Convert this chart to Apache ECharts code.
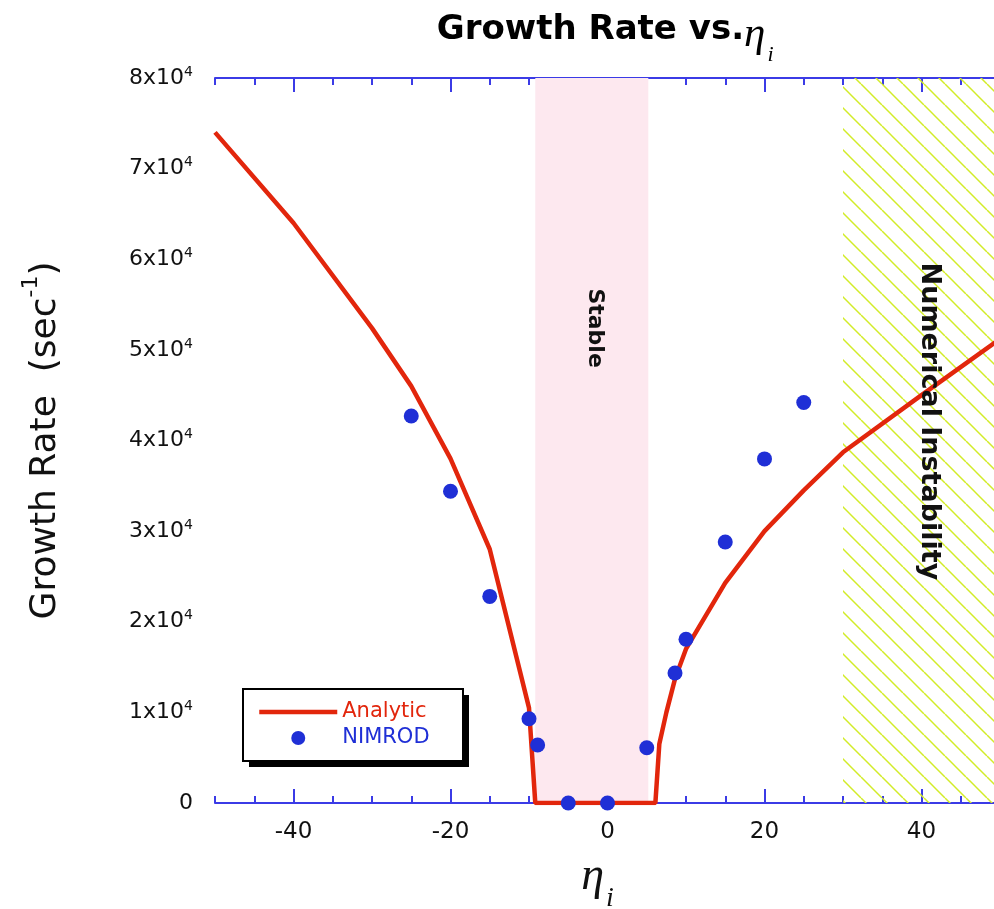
<!DOCTYPE html>
<html><head><meta charset="utf-8">
<script src="https://cdn.jsdelivr.net/npm/echarts@6/dist/echarts.min.js"></script>
<style>html,body{margin:0;padding:0;background:#fff}#c{width:994px;height:909px}</style>
</head><body><div id="c"></div>
<script>
// ---- data ----
const analyticX = [-50, -40, -30, -25, -20, -15, -10, -9.2, 6.1, 6.6, 7.5, 8.6, 10, 15, 20, 25, 30, 40, 50];
const analyticY = [74000, 64000, 52400, 46000, 38000, 28000, 10500, 0, 0, 6500, 10000, 13700, 17000, 24300, 30000, 34500, 38700, 45000, 51200];
const nimrodX = [-25, -20, -15, -10, -8.9, -5, 0, 5, 8.6, 10, 15, 20, 25];
const nimrodY = [42700, 34400, 22800, 9300, 6400, 0, 0, 6100, 14350, 18070, 28800, 37970, 44200];
const xMajorTicks = [-40, -20, 0, 20, 40];
const stableBand = [-9.2, 5.2];
const unstableBand = [30, 50];
const stableLabelPos = [-1.6, 52400];
const unstableLabelPos = [41, 42100];
const titleCenterX = -0.3;

const RED = '#e2260c', BLUE = '#1f2fd6', AXIS = '#3b3be6';
const SANS = 'DejaVu Sans', SERIF = 'Liberation Serif';

function hatch() {
  const s = 21, c = document.createElement('canvas');
  c.width = s; c.height = s;
  const g = c.getContext('2d');
  g.strokeStyle = '#d2ec28'; g.lineWidth = 1.5;
  for (const k of [-s, 0, s]) { g.beginPath(); g.moveTo(k, 0); g.lineTo(k + s, s); g.stroke(); }
  return c;
}

const chart = echarts.init(document.getElementById('c'), null, {renderer: 'canvas'});
const axisLine = {show: true, lineStyle: {color: AXIS, width: 2}};
function xAx(pos, major, labels) {
  const a = {
    type: 'value', position: pos, min: -50, max: 50, gridIndex: 0,
    splitLine: {show: false},
    axisLine: major ? {show: false} : axisLine,
    axisTick: {show: true, inside: true, length: major ? 14 : 7, lineStyle: {color: AXIS, width: 2}},
    axisLabel: {show: false}
  };
  if (major) { a.axisTick.customValues = xMajorTicks; }
  else { a.interval = 5; }
  if (labels) {
    a.axisLabel = {show: true, customValues: xMajorTicks, margin: 18, color: '#111', fontFamily: SANS, fontSize: 23};
    a.name = '{e|η}{s|i}';
    a.nameLocation = 'middle';
    a.nameGap = 51;
    a.nameTextStyle = {padding: [0, 20, 0, 0], rich: {
      e: {fontFamily: SERIF, fontStyle: 'italic', fontSize: 46, lineHeight: 46, verticalAlign: 'top', color: '#111'},
      s: {fontFamily: SERIF, fontStyle: 'italic', fontSize: 28, lineHeight: 28, verticalAlign: 'top', padding: [31, 0, 0, 2], color: '#111'}
    }};
  }
  return a;
}
function yAx(pos, labels) {
  const a = {
    type: 'value', position: pos, min: 0, max: 80000, interval: 10000, gridIndex: 0,
    splitLine: {show: false},
    axisLine: axisLine,
    axisTick: {show: true, inside: true, length: 14, lineStyle: {color: AXIS, width: 2}},
    minorTick: {show: true, splitNumber: 5, length: 7, lineStyle: {color: AXIS, width: 2}},
    minorSplitLine: {show: false},
    axisLabel: {show: false}
  };
  if (labels) {
    a.axisLabel = {show: true, margin: 22, showMaxLabel: true, showMinLabel: true,
      formatter: v => v === 0 ? '{b|0}' : '{b|' + (v / 10000) + 'x10}{s|4}',
      rich: {
        b: {fontFamily: SANS, fontSize: 22, lineHeight: 26, color: '#111'},
        s: {fontFamily: SANS, fontSize: 14, lineHeight: 14, verticalAlign: 'top', color: '#111'}
      }};
    a.name = '{a|Growth Rate  (sec}{s|-1}{a|)}';
    a.nameLocation = 'middle';
    a.nameGap = 143;
    a.nameTextStyle = {rich: {
      a: {fontFamily: SANS, fontSize: 36, lineHeight: 52, color: '#111'},
      s: {fontFamily: SANS, fontSize: 22, lineHeight: 16, verticalAlign: 'top', color: '#111'}
    }};
  }
  return a;
}

const option = {
  backgroundColor: '#fff',
  animation: false,
  grid: {left: 215, right: -6, top: 78, bottom: 106, containLabel: false, outerBoundsMode: 'none'},
  legend: {
    orient: 'vertical', left: 243, top: 689, padding: [11, 12, 9, 14], z: 20,
    itemWidth: 78, itemHeight: 14, itemGap: 2,
    textStyle: {fontFamily: SANS, fontSize: 21, lineHeight: 24},
    data: [
      {name: 'Analytic', textStyle: {color: RED},
       itemStyle: {color: 'rgba(0,0,0,0)', borderWidth: 0, opacity: 0},
       lineStyle: {color: RED, width: 4.5}},
      {name: 'NIMROD', textStyle: {color: BLUE}}
    ]
  },
  xAxis: [xAx('bottom', false, true), xAx('bottom', true, false), xAx('top', false, false), xAx('top', true, false)],
  yAxis: [yAx('left', true), yAx('right', false)],
  series: [
    {
      name: 'Analytic', type: 'line', xAxisIndex: 0, yAxisIndex: 0,
      data: analyticX.map((x, i) => [x, analyticY[i]]),
      symbol: 'none', lineStyle: {color: RED, width: 4.5}, itemStyle: {color: RED}, z: 3,
      markArea: {
        silent: true, label: {show: false}, itemStyle: {opacity: 1},
        data: [
          [{xAxis: stableBand[0], itemStyle: {color: '#fde8ef', opacity: 1}}, {xAxis: stableBand[1]}],
          [{xAxis: unstableBand[0], itemStyle: {color: {image: hatch(), repeat: 'repeat'}, opacity: 1}}, {xAxis: unstableBand[1]}]
        ]
      }
    },
    {
      name: 'NIMROD', type: 'scatter', xAxisIndex: 0, yAxisIndex: 0,
      data: nimrodX.map((x, i) => [x, nimrodY[i]]),
      symbol: 'circle', symbolSize: 15, itemStyle: {color: BLUE, opacity: 1}, z: 4
    }
  ]
};
chart.setOption(option);

const p1 = chart.convertToPixel({xAxisIndex: 0, yAxisIndex: 0}, stableLabelPos);
const p2 = chart.convertToPixel({xAxisIndex: 0, yAxisIndex: 0}, unstableLabelPos);
const pt = chart.convertToPixel({xAxisIndex: 0, yAxisIndex: 0}, [titleCenterX, 0]);
chart.setOption({graphic: [
  {type: 'text', x: pt[0], y: 13, z: 10,
   style: {text: '{t|Growth Rate vs.}{e|η}{s|i}', align: 'center', verticalAlign: 'top',
     rich: {
       t: {fontFamily: SANS, fontWeight: 'bold', fontSize: 34, lineHeight: 41, verticalAlign: 'top', fill: '#000'},
       e: {fontFamily: SERIF, fontStyle: 'italic', fontWeight: 'normal', fontSize: 43, lineHeight: 35, verticalAlign: 'top', fill: '#000'},
       s: {fontFamily: SERIF, fontStyle: 'italic', fontWeight: 'normal', fontSize: 22, lineHeight: 22, verticalAlign: 'top', padding: [31, 0, 0, 2], fill: '#000'}
     }}},
  {type: 'text', x: p1[0], y: p1[1], rotation: -Math.PI / 2, z: 10,
   style: {text: 'Stable', fontFamily: SANS, fontWeight: 'bold', fontSize: 22, fill: '#111', align: 'center', verticalAlign: 'middle'}},
  {type: 'text', x: p2[0], y: p2[1], rotation: -Math.PI / 2, z: 10,
   style: {text: 'Numerical Instability', fontFamily: SANS, fontWeight: 'bold', fontSize: 27, fill: '#111', align: 'center', verticalAlign: 'middle'}},
  {type: 'rect', z: 15, shape: {x: 249, y: 695, width: 220, height: 72}, style: {fill: '#000'}},
  {type: 'rect', z: 16, shape: {x: 243, y: 689, width: 220, height: 72}, style: {fill: '#fff', stroke: '#000', lineWidth: 2}}
]});
</script></body></html>
